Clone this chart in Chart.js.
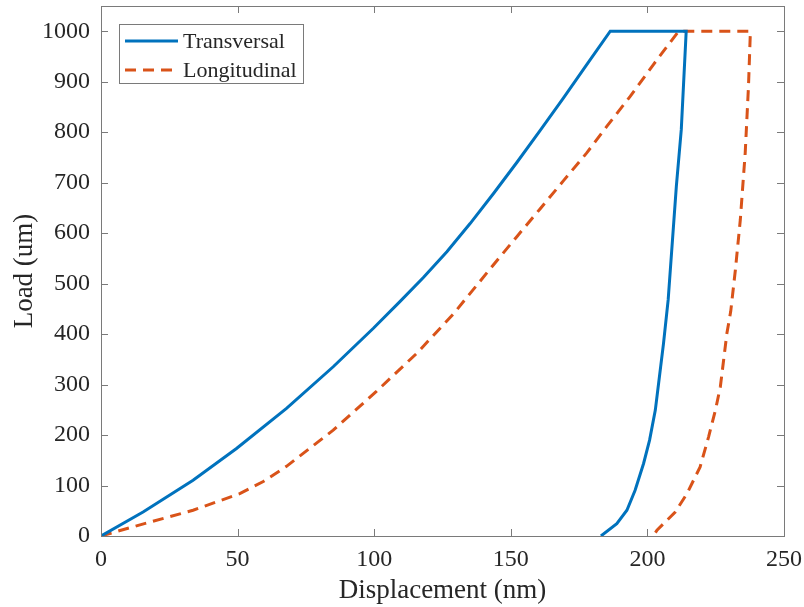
<!DOCTYPE html>
<html>
<head>
<meta charset="utf-8">
<script src="https://cdn.jsdelivr.net/npm/chart.js@4.4.1/dist/chart.umd.min.js"></script>
<style>
    html, body { margin: 0; padding: 0; background: #fff; }
    #wrap { width: 804px; height: 607px; }
</style>
</head>
<body>
<div id="wrap"><canvas id="loadChart"></canvas></div>
<script>
// Load vs displacement (loading, hold, unloading)
const transDisp = [0, 15.4, 33.7, 49.6, 67.9, 85.0, 99.7, 109.4, 118.0, 126.6, 135.1, 143.6, 152.2, 160.7, 169.3, 177.8, 186.4,
    214.2, 212.4, 210.6, 207.6, 205.9, 204.4, 202.9, 200.8, 198.6, 195.5, 192.5, 188.8, 183.0];
const transLoad = [0, 47.6, 110.5, 173.4, 252.8, 335.3, 411.5, 464.3, 512, 563, 619, 678, 740, 803, 868, 934, 1000,
    1000, 805, 693, 467.7, 381.7, 315.5, 249.4, 189.9, 143.7, 90.7, 51.0, 24.6, 0];

const longDisp = [0, 16.7, 33.7, 50.8, 59.4, 67.9, 85.0, 100.9, 115.6, 129.0, 143.6, 152.2, 160.7, 169.3, 177.8, 185.2, 193.7, 202.2, 211.4,
    237.7, 237.0, 235.8, 234.0, 232.2, 230.5, 229.1, 227.9, 226.7, 224.9, 222.4, 219.3, 214.5, 210.2, 203.5, 202.0];
const longLoad = [0, 25.8, 51.0, 84.0, 108, 138, 209.7, 287, 362, 440, 537, 593, 648, 704, 759, 812, 871, 934, 1000,
    1000, 891, 758.7, 626, 527, 445, 401.6, 348.6, 295.6, 249.4, 196.4, 136.9, 84.1, 47.6, 11.3, 0];

const xTickValues = [0, 50, 100, 150, 200, 250];
const yTickValues = [0, 100, 200, 300, 400, 500, 600, 700, 800, 900, 1000];

const FONT = "'Liberation Serif', 'Times New Roman', serif";
const AXIS_COLOR = '#7a7a7a';
const TEXT_COLOR = '#262626';

function toPoints(xs, ys) {
    return xs.map(function(x, i) { return { x: x, y: ys[i] }; });
}

// MATLAB-style box with inward ticks on all four sides
const boxPlugin = {
    id: 'boxFrame',
    afterDatasetsDraw: function(chart) {
        const ctx = chart.ctx;
        const a = chart.chartArea;
        const xs = chart.scales.x;
        const ys = chart.scales.y;
        const len = 7;
        ctx.save();
        ctx.strokeStyle = AXIS_COLOR;
        ctx.lineWidth = 1;
        ctx.beginPath();
        xTickValues.forEach(function(v) {
            const px = Math.round(xs.getPixelForValue(v)) + 0.5;
            ctx.moveTo(px, a.bottom); ctx.lineTo(px, a.bottom - len);
            ctx.moveTo(px, a.top); ctx.lineTo(px, a.top + len);
        });
        yTickValues.forEach(function(v) {
            const py = Math.round(ys.getPixelForValue(v)) + 0.5;
            ctx.moveTo(a.left, py); ctx.lineTo(a.left + len, py);
            ctx.moveTo(a.right, py); ctx.lineTo(a.right - len, py);
        });
        ctx.stroke();
        ctx.strokeRect(Math.round(a.left) + 0.5, Math.round(a.top) + 0.5,
            Math.round(a.right - a.left), Math.round(a.bottom - a.top));
        ctx.restore();
    }
};

// Boxed legend inside the upper-left corner of the plot
const legendPlugin = {
    id: 'boxLegend',
    afterDraw: function(chart) {
        const ctx = chart.ctx;
        const left = 119, top = 24, width = 184, rowH = 29;
        const sets = chart.data.datasets;
        ctx.save();
        ctx.fillStyle = '#fff';
        ctx.fillRect(left, top, width, rowH * sets.length + 1);
        ctx.strokeStyle = AXIS_COLOR;
        ctx.lineWidth = 1;
        ctx.strokeRect(left + 0.5, top + 0.5, width, rowH * sets.length + 1);
        ctx.font = '22px ' + FONT;
        ctx.textBaseline = 'middle';
        sets.forEach(function(ds, i) {
            const cy = top + 17 + i * rowH;
            ctx.strokeStyle = ds.borderColor;
            ctx.lineWidth = ds.borderWidth;
            ctx.setLineDash(ds.borderDash || []);
            ctx.beginPath();
            ctx.moveTo(left + 6, cy);
            ctx.lineTo(left + 59, cy);
            ctx.stroke();
            ctx.setLineDash([]);
            ctx.fillStyle = TEXT_COLOR;
            ctx.fillText(ds.label, left + 64, cy + 1);
        });
        ctx.restore();
    }
};

function plainLabel(value) {
    return String(value);
}

new Chart(document.getElementById('loadChart'), {
    type: 'line',
    data: {
        datasets: [
            {
                label: 'Transversal',
                data: toPoints(transDisp, transLoad),
                borderColor: '#0072BD',
                borderWidth: 3,
                pointRadius: 0,
                tension: 0,
                fill: false
            },
            {
                label: 'Longitudinal',
                data: toPoints(longDisp, longLoad),
                borderColor: '#D95319',
                borderWidth: 3,
                borderDash: [11, 7],
                pointRadius: 0,
                tension: 0,
                fill: false
            }
        ]
    },
    options: {
        responsive: true,
        maintainAspectRatio: false,
        animation: false,
        events: [],
        layout: {
            padding: { top: 6, right: 20, left: 0, bottom: 0 }
        },
        plugins: {
            legend: { display: false },
            tooltip: { enabled: false }
        },
        scales: {
            x: {
                type: 'linear',
                min: 0,
                max: 250,
                afterBuildTicks: function(scale) {
                    scale.ticks = xTickValues.map(function(v) { return { value: v }; });
                },
                afterFit: function(scale) {
                    scale.height = 71;
                    scale.paddingLeft = 0;
                    scale.paddingRight = 0;
                },
                grid: { display: false, drawTicks: false },
                border: { display: false },
                ticks: {
                    color: TEXT_COLOR,
                    padding: 9,
                    maxRotation: 0,
                    callback: plainLabel,
                    font: { family: FONT, size: 24 }
                },
                title: {
                    display: true,
                    text: 'Displacement (nm)',
                    color: TEXT_COLOR,
                    padding: { top: 0, bottom: 0 },
                    font: { family: FONT, size: 27 }
                }
            },
            y: {
                type: 'linear',
                min: 0,
                max: 1050,
                afterBuildTicks: function(scale) {
                    scale.ticks = yTickValues.map(function(v) { return { value: v }; });
                },
                afterFit: function(scale) {
                    scale.width = 101;
                    scale.paddingTop = 0;
                    scale.paddingBottom = 0;
                },
                grid: { display: false, drawTicks: false },
                border: { display: false },
                ticks: {
                    color: TEXT_COLOR,
                    padding: 11,
                    callback: plainLabel,
                    font: { family: FONT, size: 24 }
                },
                title: {
                    display: true,
                    text: 'Load (um)',
                    color: TEXT_COLOR,
                    padding: { top: 9, bottom: 0 },
                    font: { family: FONT, size: 27 }
                }
            }
        }
    },
    plugins: [boxPlugin, legendPlugin]
});
</script>
</body>
</html>
